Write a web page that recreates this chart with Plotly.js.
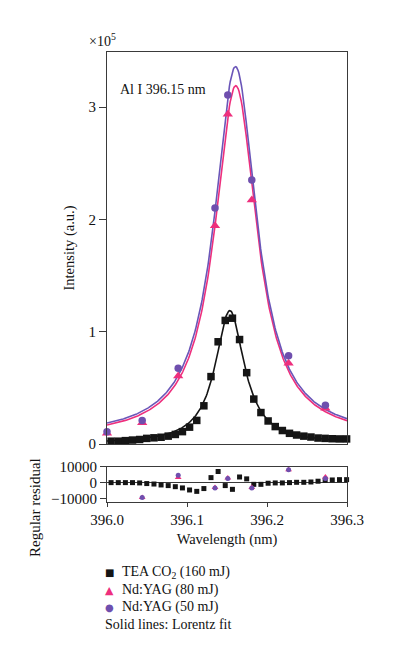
<!DOCTYPE html>
<html>
<head>
<meta charset="utf-8">
<script src="https://cdn.plot.ly/plotly-3.0.1.min.js"></script>
<style>html,body{margin:0;padding:0;background:#fff;}#chart{width:393px;height:660px;}</style>
</head>
<body>
<div id="chart"></div>
<script>
// TEA CO2 (160 mJ) measured spectrum
const teaWavelength = [395.9962,396.0051,396.0141,396.0230,396.0319,396.0408,396.0497,396.0587,396.0676,396.0765,396.0854,396.0943,396.1032,396.1122,396.1211,396.1300,396.1389,396.1478,396.1568,396.1657,396.1746,396.1835,396.1924,396.2014,396.2103,396.2192,396.2281,396.2370,396.2460,396.2549,396.2638,396.2727,396.2816,396.2906,396.2995];
const teaIntensity = [2000,2500,2500,3000,3500,4000,5000,5500,6000,7000,8500,11000,15000,21000,34000,60000,91000,110000,112000,93000,63500,40000,28000,20500,15500,12000,9500,8000,7000,6200,5300,5000,4700,4500,4500];
const teaResidual = [0,0,0,0,-200,-600,-900,-1500,-1900,-2600,-3400,-4700,-5600,-3800,3200,7100,-1900,-4300,3600,2400,-1100,-1100,-400,-200,-200,0,200,200,400,900,1500,1700,1900,1900];
const teaResidualWavelength = teaWavelength.slice(1);

// Nd:YAG measurements
const yagWavelength = [396.000,396.044,396.089,396.135,396.151,396.181,396.227,396.273];
const yag80Intensity = [9500,19000,60500,194400,293600,217300,71800,31800];
const yag50Intensity = [11000,21000,67400,210000,310800,235000,78600,34500];
const yagResidualWavelength = [396.044,396.089,396.135,396.151,396.181,396.227,396.273];
const yag80Residual = [-9500,3200,-3200,3000,-3200,8200,3600];
const yag50Residual = [-9600,4700,-3400,2600,-3400,8300,2600];

// Lorentz fit parameters [centre (nm), amplitude, HWHM (nm), baseline]
const teaFit = [396.1535, 118500, 0.022, 300];
const yag80Fit = [396.1610, 314000, 0.032, 5000];
const yag50Fit = [396.1606, 330000, 0.032, 6000];

const xRange = [396.0, 396.3];
const xTicks = [396.0, 396.1, 396.2, 396.3];
const xTickText = ['396.0', '396.1', '396.2', '396.3'];
const yTicks = [0, 100000, 200000, 300000];
const yTickText = ['0', '1', '2', '3'];
const resTicks = [-10000, 0, 10000];
const resTickText = ['\u221210000', '0', '10000'];

const fitX = [];
for (let k = 0; k <= 300; k++) fitX.push(xRange[0] + (xRange[1] - xRange[0]) * k / 300);
function lorentz(p) {
  return fitX.map(x => p[1] / (1 + Math.pow((x - p[0]) / p[2], 2)) + p[3]);
}

const BLACK = '#151515', PINK = '#ee2f7d', PURPLE = '#6f4fae', LPURPLE = '#6a55b8';
const SERIF = 'Liberation Serif, Times New Roman, serif';

const traces = [
  {x: fitX, y: lorentz(teaFit), xaxis: 'x2', yaxis: 'y2', mode: 'lines', line: {color: BLACK, width: 1.6}, showlegend: false, hoverinfo: 'skip'},
  {x: fitX, y: lorentz(yag80Fit), xaxis: 'x2', yaxis: 'y2', mode: 'lines', line: {color: PINK, width: 1.6}, showlegend: false, hoverinfo: 'skip'},
  {x: fitX, y: lorentz(yag50Fit), xaxis: 'x2', yaxis: 'y2', mode: 'lines', line: {color: LPURPLE, width: 1.6}, showlegend: false, hoverinfo: 'skip'},
  {x: teaWavelength, y: teaIntensity, xaxis: 'x2', yaxis: 'y2', mode: 'markers', name: 'TEA CO2 (160 mJ)', marker: {symbol: 'square', size: 7.5, color: BLACK}, cliponaxis: false, showlegend: false},
  {x: yagWavelength, y: yag80Intensity, xaxis: 'x2', yaxis: 'y2', mode: 'markers', name: 'Nd:YAG (80 mJ)', marker: {symbol: 'triangle-up', size: 9, color: PINK}, cliponaxis: false, showlegend: false},
  {x: yagWavelength, y: yag50Intensity, xaxis: 'x2', yaxis: 'y2', mode: 'markers', name: 'Nd:YAG (50 mJ)', marker: {symbol: 'circle', size: 7.5, color: PURPLE}, cliponaxis: false, showlegend: false},
  {x: teaResidualWavelength, y: teaResidual, xaxis: 'x', yaxis: 'y', mode: 'markers', marker: {symbol: 'square', size: 5, color: BLACK}, cliponaxis: false, showlegend: false},
  {x: yagResidualWavelength, y: yag80Residual, xaxis: 'x', yaxis: 'y', mode: 'markers', marker: {symbol: 'triangle-up', size: 6, color: PINK}, cliponaxis: false, showlegend: false},
  {x: yagResidualWavelength, y: yag50Residual, xaxis: 'x', yaxis: 'y', mode: 'markers', marker: {symbol: 'circle', size: 5, color: PURPLE}, cliponaxis: false, showlegend: false}
];

const axisCommon = {showline: true, mirror: true, linecolor: '#3a3a3a', linewidth: 1, showgrid: false, zeroline: false, tickcolor: '#3a3a3a', tickfont: {family: SERIF, size: 15, color: '#111'}};

const layout = {
  width: 393, height: 660,
  margin: {l: 107, r: 46, t: 52, b: 158},
  paper_bgcolor: '#fff', plot_bgcolor: '#fff',
  font: {family: SERIF, color: '#111'},
  showlegend: false,
  xaxis: Object.assign({}, axisCommon, {anchor: 'y', range: xRange, tickvals: xTicks, ticktext: xTickText, ticks: 'outside', ticklen: 4,
    title: {text: 'Wavelength (nm)', font: {family: SERIF, size: 14.5, color: '#111'}, standoff: 6}}),
  yaxis: Object.assign({}, axisCommon, {domain: [0, 0.0778], range: [-12400, 10000], tickvals: resTicks, ticktext: resTickText, ticks: 'outside', ticklen: 6,
    zeroline: true, zerolinecolor: '#3a3a3a', zerolinewidth: 1}),
  xaxis2: Object.assign({}, axisCommon, {anchor: 'y2', matches: 'x', range: xRange, showticklabels: false, ticks: ''}),
  yaxis2: Object.assign({}, axisCommon, {anchor: 'x2', domain: [0.1289, 1], range: [0, 349000], tickvals: yTicks, ticktext: yTickText, ticks: 'outside', ticklen: 7,
    title: {text: 'Intensity (a.u.)', font: {family: SERIF, size: 14.5, color: '#111'}, standoff: 10}}),
  annotations: [
    {xref: 'paper', yref: 'paper', x: 0, y: 1, xshift: -20, yshift: 1, xanchor: 'left', yanchor: 'bottom', showarrow: false, text: '\u00d710<sup>5</sup>', font: {family: SERIF, size: 14, color: '#111'}},
    {xref: 'paper', yref: 'paper', x: 0, y: 1, xshift: 11, yshift: -37, xanchor: 'left', yanchor: 'middle', showarrow: false, text: 'Al I 396.15 nm', font: {family: SERIF, size: 14, color: '#111'}},
    {xref: 'paper', yref: 'paper', x: 0, y: 0, xshift: -72, yshift: -6, xanchor: 'center', yanchor: 'middle', showarrow: false, textangle: -90, text: 'Regular residual', font: {family: SERIF, size: 15, color: '#111'}},
    {xref: 'paper', yref: 'paper', x: 0, y: 0, xshift: 2, yshift: -70, xanchor: 'center', yanchor: 'middle', showarrow: false, text: '\u25a0', font: {family: 'DejaVu Sans', size: 10, color: BLACK}},
    {xref: 'paper', yref: 'paper', x: 0, y: 0, xshift: 13, yshift: -70, xanchor: 'left', yanchor: 'middle', showarrow: false, text: 'TEA CO<sub>2</sub> (160 mJ)', font: {family: SERIF, size: 14, color: '#111'}},
    {xref: 'paper', yref: 'paper', x: 0, y: 0, xshift: 2, yshift: -88, xanchor: 'center', yanchor: 'middle', showarrow: false, text: '\u25b2', font: {family: 'DejaVu Sans', size: 11, color: PINK}},
    {xref: 'paper', yref: 'paper', x: 0, y: 0, xshift: 13, yshift: -88, xanchor: 'left', yanchor: 'middle', showarrow: false, text: 'Nd:YAG (80 mJ)', font: {family: SERIF, size: 14, color: '#111'}},
    {xref: 'paper', yref: 'paper', x: 0, y: 0, xshift: 2, yshift: -105, xanchor: 'center', yanchor: 'middle', showarrow: false, text: '\u25cf', font: {family: 'DejaVu Sans', size: 10, color: PURPLE}},
    {xref: 'paper', yref: 'paper', x: 0, y: 0, xshift: 13, yshift: -105, xanchor: 'left', yanchor: 'middle', showarrow: false, text: 'Nd:YAG (50 mJ)', font: {family: SERIF, size: 14, color: '#111'}},
    {xref: 'paper', yref: 'paper', x: 0, y: 0, xshift: -4, yshift: -122, xanchor: 'left', yanchor: 'middle', showarrow: false, text: 'Solid lines: Lorentz fit', font: {family: SERIF, size: 14, color: '#111'}}
  ]
};

Plotly.newPlot('chart', traces, layout, {displayModeBar: false, staticPlot: true});
</script>
</body>
</html>
